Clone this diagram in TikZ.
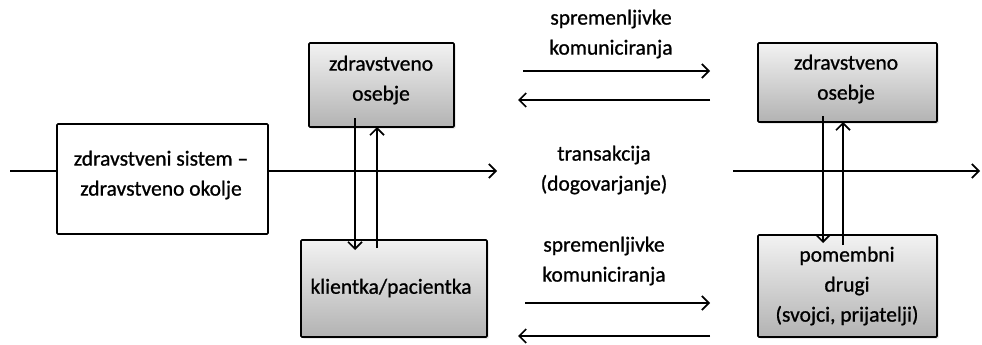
\documentclass[tikz,border=0pt]{standalone}
\usepackage{fontspec}
\setmainfont{Carlito}[FakeBold=0.9]
\newfontfamily\diagfont{Carlito}[FakeBold=0.9]
\usetikzlibrary{arrows.meta,shadows}
\tikzset{
  txt/.style={font=\diagfont\fontsize{21.5}{30}\selectfont, align=center, inner sep=0pt},
  graybox/.style={draw=black, line width=1.6pt, rounded corners=1pt,
    top color=gray!10, bottom color=gray!60,
    drop shadow={shadow xshift=1.5pt, shadow yshift=-1.5pt, opacity=0.25},
    inner sep=0pt},
  whitebox/.style={draw=black, line width=1.6pt, rounded corners=1pt, fill=white, inner sep=0pt},
  conn/.style={line width=1.7pt, -{Straight Barb[length=7pt,width=14pt,line width=1.7pt]}},
  plainline/.style={line width=1.7pt}
}
\begin{document}
\begin{tikzpicture}[x=1pt,y=-1pt]
\useasboundingbox (0,0) rectangle (982,345);
% boxes
\node[whitebox, minimum width=211pt, minimum height=110pt] (sys) at (162.5,179) {};
\node[graybox, minimum width=145pt, minimum height=84pt] (tl) at (381.5,85) {};
\node[graybox, minimum width=186pt, minimum height=97pt] (bl) at (394,288.5) {};
\node[graybox, minimum width=179pt, minimum height=79pt] (tr) at (847.5,82.5) {};
\node[graybox, minimum width=179pt, minimum height=102pt] (br) at (847.5,286) {};
% box texts
\node[txt] (systxt) at (161,175) {zdravstveni sistem –\\zdravstveno okolje};
\node[txt] (tltxt) at (381,80) {zdravstveno\\osebje};
\node[txt] (bltxt) at (391,288) {klientka/pacientka};
\node[txt] (trtxt) at (846,79) {zdravstveno\\osebje};
\node[txt] (brtxt) at (847,286) {pomembni\\drugi\\(svojci, prijatelji)};
% labels
\node[txt] (lab1) at (611,34) {spremenljivke\\komuniciranja};
\node[txt] (lab2) at (604,170) {transakcija\\(dogovarjanje)};
\node[txt] (lab3) at (604,261) {spremenljivke\\komuniciranja};
% coordinates
\coordinate (in) at (10,171);
\coordinate (sysout) at (268,171);
\coordinate (tend) at (497,171);
\coordinate (tstart) at (733,171);
\coordinate (rend) at (980,171);
\coordinate (ld1) at (355,118);
\coordinate (ld2) at (355,250);
\coordinate (lu1) at (377,248);
\coordinate (lu2) at (377,127);
\coordinate (rd1) at (823,116);
\coordinate (rd2) at (823,243);
\coordinate (ru1) at (843,245);
\coordinate (ru2) at (843,122);
\coordinate (a1s) at (523,71);
\coordinate (a1e) at (710,71);
\coordinate (a2s) at (710,100);
\coordinate (a2e) at (518,100);
\coordinate (b1s) at (525,303);
\coordinate (b1e) at (710,303);
\coordinate (b2s) at (710,336);
\coordinate (b2e) at (518,336);
% connectors
\draw[plainline] (in) -- (sys.west |- in);
\draw[conn] (sys.east |- sysout) -- (tend);
\draw[conn] (tstart) -- (rend);
\draw[conn] (ld1) -- (ld2);
\draw[conn] (lu1) -- (lu2);
\draw[conn] (rd1) -- (rd2);
\draw[conn] (ru1) -- (ru2);
\draw[conn] (a1s) -- (a1e);
\draw[conn] (a2s) -- (a2e);
\draw[conn] (b1s) -- (b1e);
\draw[conn] (b2s) -- (b2e);
\end{tikzpicture}
\end{document}
